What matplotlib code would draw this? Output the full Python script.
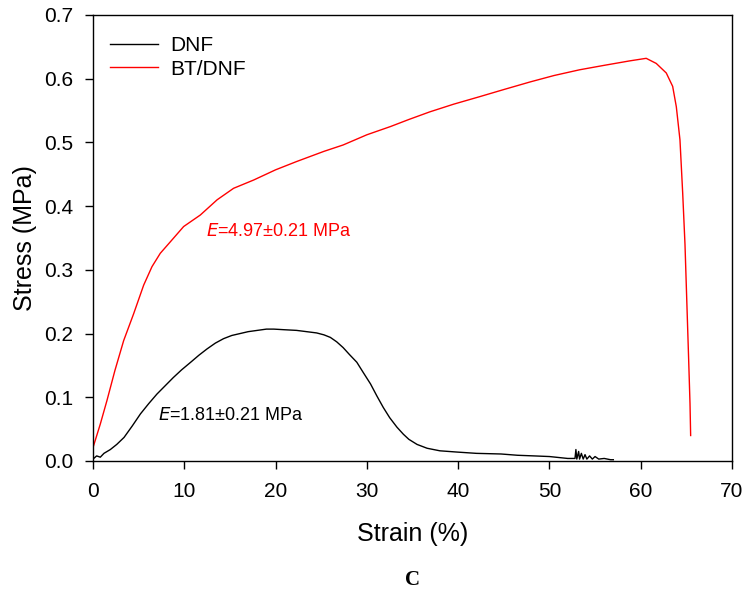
import matplotlib
matplotlib.use("Agg")
import matplotlib.pyplot as plt

plt.rcParams['font.family'] = ['Liberation Sans', 'DejaVu Sans']

dnf_strain = [0, 0.4, 0.8, 1.2, 1.9, 2.6, 3.4, 4.3, 5.2, 6.1, 7.0, 7.9, 8.8, 9.7, 10.7,
              11.6, 12.5, 13.4, 14.3, 15.2, 16.1, 17.0, 18.0, 19.0, 19.8, 21.0, 22.3,
              23.4, 24.5, 25.3, 26.0, 26.7, 27.4, 28.1, 28.9, 29.6, 30.4, 31.1, 31.8,
              32.5, 33.3, 34.0, 34.6, 35.5, 36.6, 38.0, 39.9, 42.0, 44.7, 46.5, 48.3,
              50.0, 52.0, 52.8, 52.9, 53.0, 53.2, 53.3, 53.5, 53.7, 53.9, 54.1, 54.4,
              54.7, 55.0, 55.4, 56.0, 56.7, 57.0]
dnf_stress = [0.003, 0.008, 0.006, 0.012, 0.018, 0.026, 0.037, 0.055, 0.074, 0.090, 0.105,
              0.118, 0.131, 0.143, 0.155, 0.166, 0.176, 0.185, 0.192, 0.197, 0.200, 0.203,
              0.205, 0.207, 0.207, 0.206, 0.205, 0.203, 0.201, 0.198, 0.194, 0.187, 0.178,
              0.167, 0.155, 0.139, 0.121, 0.102, 0.084, 0.068, 0.053, 0.042, 0.034, 0.026,
              0.020, 0.016, 0.014, 0.012, 0.011, 0.009, 0.008, 0.007, 0.004, 0.004, 0.018,
              0.003, 0.015, 0.003, 0.012, 0.003, 0.010, 0.003, 0.008, 0.003, 0.007, 0.003,
              0.004, 0.002, 0.002]

bt_strain = [0, 0.8, 1.53, 2.4, 3.36, 4.45, 5.55, 6.46, 7.37, 8.47, 9.93, 11.75, 13.6,
             15.4, 17.6, 20.0, 22.3, 25.3, 27.4, 30.0, 32.6, 34.6, 36.9, 39.5, 42.4, 45.0,
             47.9, 50.5, 53.3, 56.0, 58.8, 60.6, 61.7, 62.8, 63.5, 63.9, 64.3, 64.6, 64.85,
             65.05, 65.25, 65.4, 65.47]
bt_stress = [0.021, 0.058, 0.095, 0.142, 0.189, 0.231, 0.276, 0.305, 0.326, 0.344, 0.368,
             0.386, 0.410, 0.428, 0.441, 0.457, 0.470, 0.486, 0.496, 0.512, 0.525, 0.536,
             0.548, 0.560, 0.572, 0.583, 0.595, 0.605, 0.614, 0.621, 0.628, 0.632, 0.624,
             0.609, 0.588, 0.556, 0.504, 0.420, 0.340, 0.250, 0.160, 0.090, 0.040]

x_ticks = [0, 10, 20, 30, 40, 50, 60, 70]
y_ticks = [0.0, 0.1, 0.2, 0.3, 0.4, 0.5, 0.6, 0.7]

fig = plt.figure(figsize=(7.51, 5.97), dpi=100)
ax = fig.add_axes([93/751, 1 - 461/597, (732-93)/751, (461-15)/597])

ax.plot(dnf_strain, dnf_stress, color='black', lw=1.0, label='DNF')
ax.plot(bt_strain, bt_stress, color='#ff0000', lw=1.0, label='BT/DNF')

ax.set_xlim(0, 70)
ax.set_ylim(0, 0.7)
ax.set_xticks(x_ticks)
ax.set_yticks(y_ticks)
ax.set_yticklabels([f"{v:.1f}" for v in y_ticks])
ax.tick_params(direction='out', length=6, width=1, labelsize=15)
ax.tick_params(axis='x', pad=9)
ax.tick_params(axis='y', pad=8)
for s in ax.spines.values():
    s.set_linewidth(1)

ax.set_xlabel('Strain (%)', fontsize=18, labelpad=15.5)
ax.set_ylabel('Stress (MPa)', fontsize=18, labelpad=5)

ax.text(12.4, 0.36, r'$\it{E}$=4.97±0.21 MPa', color='#ff0000', fontsize=13, va='center')
ax.text(7.1, 0.072, r'$\it{E}$=1.81±0.21 MPa', color='black', fontsize=13, va='center')

ax.legend(loc='upper left', bbox_to_anchor=(0.027, 0.953), frameon=False, fontsize=15,
          handlelength=2.3, handletextpad=0.58, borderaxespad=0, borderpad=0,
          labelspacing=0.22)

fig.text(413/751, 1 - 580/597, 'C', family=['Liberation Serif', 'DejaVu Serif'],
         fontweight='bold', fontsize=15, ha='center', va='center')

fig.savefig('out.png', dpi=100)
